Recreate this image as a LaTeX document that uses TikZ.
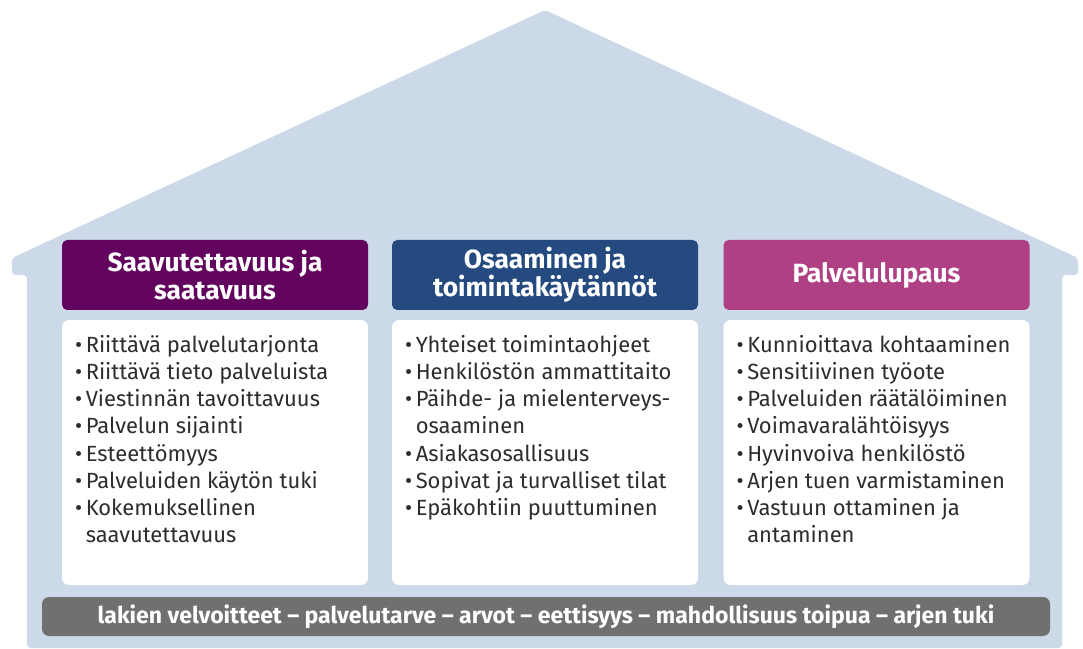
\documentclass[tikz,border=0pt]{standalone}
\usepackage{fontspec}
\setmainfont{Fira Sans}
\usetikzlibrary{positioning}

\definecolor{housebg}{RGB}{203,217,233}
\definecolor{purp}{RGB}{98,4,94}
\definecolor{navy}{RGB}{36,74,128}
\definecolor{rose}{RGB}{176,64,132}
\definecolor{basegray}{RGB}{112,112,112}
\definecolor{txt}{RGB}{45,45,45}

\begin{document}
\begin{tikzpicture}[
        head/.style={rectangle, rounded corners=3pt, minimum width=6.12cm, minimum height=1.4cm,
            text=white, align=center, font=\fontsize{15}{16}\selectfont\bfseries},
        panel/.style={rectangle, rounded corners=4pt, fill=white, minimum width=6.12cm, minimum height=5.3cm},
        items/.style={anchor=north west, inner sep=0pt, align=left, text=txt,
            font=\fontsize{12.5}{15.5}\selectfont},
        base/.style={rectangle, rounded corners=4pt, fill=basegray, minimum width=20.16cm, minimum height=0.78cm,
            text=white, font=\fontsize{13.1}{15}\selectfont\bfseries}
    ]
    \useasboundingbox (0,0) rectangle (21.66,12.96);

    % Talo
    \fill[housebg, rounded corners=2pt] (10.9,12.76) -- (21.56,7.8) -- (21.56,7.46) -- (21.24,7.46)
        -- (21.24,0) -- (0.54,0) -- (0.54,7.46) -- (0.24,7.46) -- (0.24,7.8) -- cycle;

    % Otsikot
    \node[head, fill=purp] (h1) at (4.3,7.46) {Saavutettavuus ja\\saatavuus};
    \node[head, fill=navy] (h2) at (10.9,7.46) {Osaaminen ja\\toimintakäytännöt};
    \node[head, fill=rose] (h3) at (17.53,7.46) {Palvelulupaus};

    % Laatikot
    \node[panel] (b1) at (4.3,3.91) {};
    \node[panel] (b2) at (10.9,3.91) {};
    \node[panel] (b3) at (17.53,3.91) {};

    % Listat
    \node[items] (l1) at ([xshift=0.26cm, yshift=-0.3cm]b1.north west) {%
        \textbullet\,Riittävä palvelutarjonta\\
        \textbullet\,Riittävä tieto palveluista\\
        \textbullet\,Viestinnän tavoittavuus\\
        \textbullet\,Palvelun sijainti\\
        \textbullet\,Esteettömyys\\
        \textbullet\,Palveluiden käytön tuki\\
        \textbullet\,Kokemuksellinen\\
        \phantom{\textbullet\,}saavutettavuus};
    \node[items] (l2) at ([xshift=0.26cm, yshift=-0.3cm]b2.north west) {%
        \textbullet\,Yhteiset toimintaohjeet\\
        \textbullet\,Henkilöstön ammattitaito\\
        \textbullet\,Päihde- ja mielenterveys-\\
        \phantom{\textbullet\,}osaaminen\\
        \textbullet\,Asiakasosallisuus\\
        \textbullet\,Sopivat ja turvalliset tilat\\
        \textbullet\,Epäkohtiin puuttuminen};
    \node[items] (l3) at ([xshift=0.26cm, yshift=-0.3cm]b3.north west) {%
        \textbullet\,Kunnioittava kohtaaminen\\
        \textbullet\,Sensitiivinen työote\\
        \textbullet\,Palveluiden räätälöiminen\\
        \textbullet\,Voimavaralähtöisyys\\
        \textbullet\,Hyvinvoiva henkilöstö\\
        \textbullet\,Arjen tuen varmistaminen\\
        \textbullet\,Vastuun ottaminen ja\\
        \phantom{\textbullet\,}antaminen};

    % Perusta
    \node[base] (pohja) at (10.92,0.63) {lakien velvoitteet – palvelutarve – arvot – eettisyys – mahdollisuus toipua – arjen tuki};

\end{tikzpicture}
\end{document}
